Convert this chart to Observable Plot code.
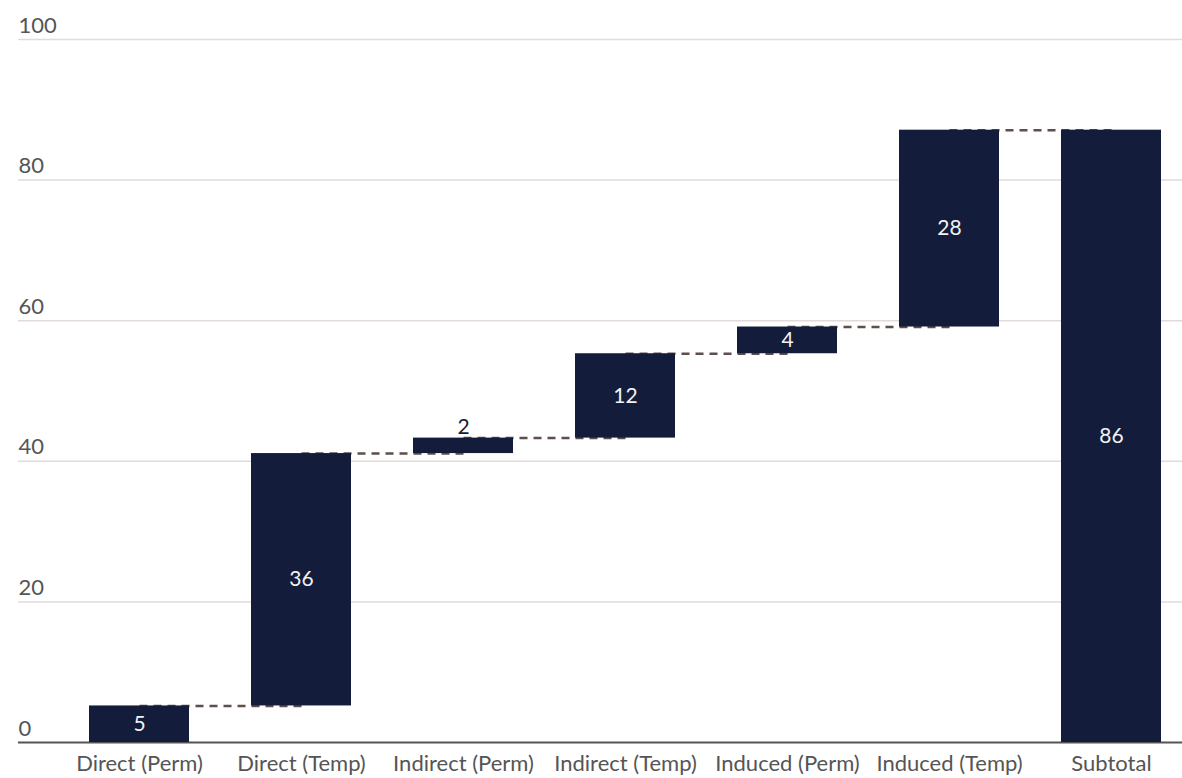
<!DOCTYPE html>
<html><head><meta charset="utf-8">
<script src="https://cdn.jsdelivr.net/npm/d3@7"></script>
<script src="https://cdn.jsdelivr.net/npm/@observablehq/plot@0.6"></script>
<style>body{margin:0;background:#fff;}</style>
</head><body><div id="chart"></div>
<script>
const categories = ["Direct (Perm)", "Direct (Temp)", "Indirect (Perm)", "Indirect (Temp)", "Induced (Perm)", "Induced (Temp)", "Subtotal"];
const steps = [5.2, 35.9, 2.2, 12.0, 3.8, 28.0];
const subtotal = 87.1;
const valueLabels = ["5", "36", "2", "12", "4", "28", "86"];
const yTicks = [0, 20, 40, 60, 80, 100];

let cum = 0;
const rows = categories.map((c, i) => {
  if (i < steps.length) {
    const y1 = cum; cum += steps[i];
    return {cat: c, y1, y2: cum, label: valueLabels[i], v: steps[i]};
  }
  return {cat: c, y1: 0, y2: subtotal, label: valueLabels[i], v: subtotal};
});
const links = rows.slice(0, -1).map((r, i) => ({a: r.cat, b: rows[i + 1].cat, y: r.y2}));

const navy = "#131c3b";
const chart = Plot.plot({
  width: 1182,
  height: 778,
  marginTop: 39,
  marginBottom: 36,
  marginLeft: 18,
  marginRight: 0,
  style: {fontFamily: "Lato, sans-serif", fontSize: "22px", color: "#555", background: "#fff"},
  x: {domain: categories, paddingInner: 0.383, paddingOuter: 0.284, align: 0.77, label: null},
  y: {domain: [0, 100], axis: null},
  marks: [
    Plot.ruleY(yTicks.filter(t => t > 0), {stroke: "#e3dada", strokeWidth: 1.5}),
    Plot.ruleY([0], {stroke: "#555", strokeWidth: 2}),
    Plot.link(links, {x1: "a", x2: "b", y1: "y", y2: "y", stroke: "#5e4e4c", strokeWidth: 2.5, strokeDasharray: "8,6"}),
    Plot.barY(rows, {x: "cat", y1: "y1", y2: "y2", fill: navy}),
    Plot.text(rows.filter(d => d.v >= 3), {x: "cat", y: d => (d.y1 + d.y2) / 2, text: "label", fill: "#f2f2f2", fontSize: 21}),
    Plot.text(rows.filter(d => d.v < 3), {x: "cat", y: "y2", text: "label", fill: navy, fontSize: 21, lineAnchor: "bottom", dy: -4}),
    Plot.text(yTicks, {y: d => d, text: d => String(d), frameAnchor: "left", textAnchor: "start", lineAnchor: "bottom", dy: -7, fill: "#555", fontSize: 22}),
    Plot.axisX({tickSize: 0, tickPadding: 13, fontSize: 22})
  ]
});
document.getElementById("chart").appendChild(chart);
</script>
</body></html>
